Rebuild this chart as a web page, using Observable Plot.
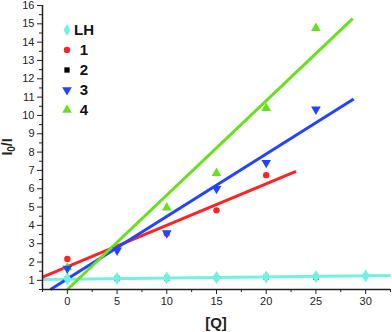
<!DOCTYPE html>
<html><head><meta charset="utf-8">
<script src="https://cdn.jsdelivr.net/npm/d3@7"></script>
<script src="https://cdn.jsdelivr.net/npm/@observablehq/plot@0.6"></script>
<style>body{margin:0;background:#fff} svg{display:block}</style>
</head><body><div id="chart"></div>
<script>
// ---- data ----
const seriesNames = ["LH", "1", "2", "3", "4"];
const seriesColors = ["#6ff3e0", "#ff2222", "#000000", "#2244ff", "#66e21a"];
const seriesSymbols = ["diamond", "circle", "square", "triangle", "triangle"];
const seriesRotate = [0, 0, 0, 180, 0];

const qLH = [0, 5, 10, 15, 20, 25, 30];
const vLH = [1.08, 1.1, 1.13, 1.15, 1.18, 1.2, 1.24];
const q1 = [0, 10, 15, 20];
const v1 = [2.17, 3.55, 4.82, 6.74];
const q2 = [0, 5, 10, 15, 20, 25];
const v2 = [1.08, 1.1, 1.12, 1.15, 1.17, 1.17];
const q3 = [0, 5, 10, 15, 20, 25];
const v3 = [1.65, 2.64, 3.58, 6.0, 7.42, 10.33];
const q4 = [0, 10, 15, 20, 25];
const v4 = [1.7, 4.97, 6.85, 10.4, 14.76];

// fitted lines: [series, q start, value start, q end, value end]
const fitSeries = ["LH", "1", "3", "4"];
const fitQ1 = [-2.5, -2.5, -1.7, 0];
const fitV1 = [1.05, 1.18, 0.5, 0.5];
const fitQ2 = [32.5, 23, 28.8, 28.7];
const fitV2 = [1.27, 6.95, 10.9, 15.28];

const xDomain = [-2.5, 32.5];
const yDomain = [0.5, 16];
const xMajor = [0, 5, 10, 15, 20, 25, 30];
const xMinor = [-2.5, 2.5, 7.5, 12.5, 17.5, 22.5, 27.5, 32.5];
const yMajor = d3.range(1, 17, 1);
const yMinor = d3.range(0.5, 16, 1);
const xLabel = "[Q]";

// ---- build tables ----
const table = (qs, vs, s) => qs.map((q, i) => ({series: s, q, v: vs[i]}));
const data = {
  "LH": table(qLH, vLH, "LH"),
  "1": table(q1, v1, "1"),
  "2": table(q2, v2, "2"),
  "3": table(q3, v3, "3"),
  "4": table(q4, v4, "4")
};
const fits = fitSeries.map((s, i) => ({series: s, x1: fitQ1[i], y1: fitV1[i], x2: fitQ2[i], y2: fitV2[i]}));
const colorOf = s => seriesColors[seriesNames.indexOf(s)];

const dotMark = (s, r) => {
  const i = seriesNames.indexOf(s);
  return Plot.dot(data[s], {x: "q", y: "v", symbol: seriesSymbols[i], fill: seriesColors[i], r, rotate: seriesRotate[i]});
};

const W = 392, H = 332;
const plot = Plot.plot({
  width: W, height: H,
  marginLeft: 42, marginRight: 2, marginTop: 5, marginBottom: 43,
  style: {fontFamily: "'Liberation Sans', Arial, sans-serif", color: "#222", background: "#fff"},
  x: {domain: xDomain},
  y: {domain: yDomain},
  marks: [
    dotMark("2", 3),
    Plot.link(fits, {x1: "x1", y1: "y1", x2: "x2", y2: "y2", stroke: d => colorOf(d.series), strokeWidth: 3}),
    dotMark("LH", 4),
    dotMark("1", 3.2),
    dotMark("4", 3.6),
    dotMark("3", 3.6),
    Plot.axisX({ticks: xMajor, tickSize: 5, tickPadding: 3, fontSize: 11, label: null}),
    Plot.axisX({ticks: xMinor, tickSize: 3, tickFormat: () => "", label: null}),
    Plot.axisY({ticks: yMajor, tickSize: 5, tickPadding: 3, fontSize: 11, label: null}),
    Plot.axisY({ticks: yMinor, tickSize: 3, tickFormat: () => "", label: null}),
    Plot.ruleX([xDomain[0]], {stroke: "#222", strokeWidth: 1.5}),
    Plot.ruleY([yDomain[0]], {stroke: "#222", strokeWidth: 1.5})
  ]
});

const svg = d3.select(plot);
// axis titles
svg.append("text")
  .attr("x", (42 + W - 2) / 2).attr("y", H - 4)
  .attr("text-anchor", "middle")
  .attr("font-family", "'Liberation Sans', Arial, sans-serif")
  .attr("font-weight", "bold").attr("font-size", 15).attr("fill", "#222")
  .text(xLabel);
const yl = svg.append("text")
  .attr("transform", `translate(12,${(5 + H - 43) / 2}) rotate(-90)`)
  .attr("text-anchor", "middle")
  .attr("font-family", "'Liberation Sans', Arial, sans-serif")
  .attr("font-weight", "bold").attr("font-size", 14).attr("fill", "#222");
yl.append("tspan").text("I");
yl.append("tspan").attr("font-size", 10).attr("dy", 3).text("0");
yl.append("tspan").attr("dy", -3).text("/I");

// legend
const symMap = {diamond: d3.symbolDiamond, circle: d3.symbolCircle, square: d3.symbolSquare, triangle: d3.symbolTriangle};
const sizes = [3.6, 3.2, 3, 3.6, 3.6];
const lg = svg.append("g").attr("transform", "translate(67,30)");
seriesNames.forEach((s, i) => {
  const g = lg.append("g").attr("transform", `translate(0,${i * 20})`);
  g.append("path")
    .attr("d", d3.symbol(symMap[seriesSymbols[i]], Math.PI * sizes[i] * sizes[i])())
    .attr("transform", `rotate(${seriesRotate[i]})`)
    .attr("fill", seriesColors[i]);
  g.append("text").attr("x", 17).attr("y", 0).attr("dy", "0.36em")
    .attr("font-family", "'Liberation Sans', Arial, sans-serif")
    .attr("font-weight", "bold").attr("font-size", 15).attr("fill", "#111")
    .text(s);
});

document.getElementById("chart").appendChild(plot);
</script>
</body></html>
